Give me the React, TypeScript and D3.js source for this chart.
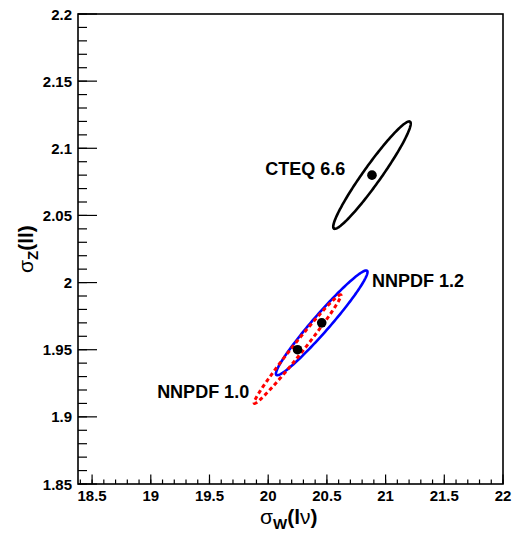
import React from "react";
import * as d3 from "d3";

const ellipseNames = ["CTEQ 6.6", "NNPDF 1.2", "NNPDF 1.0"];
const centerW = [20.884, 20.456, 20.25];
const centerZ = [2.08, 1.97, 1.9505];
const sigmaW = [0.33, 0.39, 0.37];
const sigmaZ = [0.04, 0.039, 0.0405];
const correlation = [0.96, 0.97, 0.988];
const ellipseColors = ["#000000", "#0000ff", "#ff0000"];
const ellipseDash = ["", "", "4,3"];
const ellipseWidth = [2.6, 2.6, 3];

const pointW = [20.884, 20.456, 20.25];
const pointZ = [2.08, 1.97, 1.95];

const labelText = ["CTEQ 6.6", "NNPDF 1.2", "NNPDF 1.0"];
const labelW = [19.975, 20.884, 19.054];
const labelZ = [2.08, 1.997, 1.914];

const xTicks = [18.5, 19, 19.5, 20, 20.5, 21, 21.5, 22];
const yTicks = [1.85, 1.9, 1.95, 2, 2.05, 2.1, 2.15, 2.2];

const W = 512, H = 535;
const left = 78, right = 503, top = 14, bottom = 484;
const FONT = "'Liberation Sans', Arial, Helvetica, sans-serif";

export default function App() {
  const x = d3.scaleLinear().domain([18.38, 22]).range([left, right]);
  const y = d3.scaleLinear().domain([1.85, 2.2]).range([bottom, top]);

  const xMinor = d3.range(18.4, 22.0001, 0.1).map((v) => +v.toFixed(2));
  const yMinor = d3.range(1.85, 2.2001, 0.01).map((v) => +v.toFixed(3));

  const line = d3
    .line<[number, number]>()
    .x((d) => x(d[0]))
    .y((d) => y(d[1]))
    .curve(d3.curveLinearClosed);

  const ellipses = ellipseNames.map((name, i) => {
    const rho = correlation[i];
    const s = Math.sqrt(1 - rho * rho);
    const pts: [number, number][] = d3.range(0, 360, 2).map((deg) => {
      const t = (deg * Math.PI) / 180;
      return [
        centerW[i] + sigmaW[i] * Math.cos(t),
        centerZ[i] + sigmaZ[i] * (rho * Math.cos(t) + s * Math.sin(t)),
      ];
    });
    return { name, d: line(pts) || "", color: ellipseColors[i], dash: ellipseDash[i], w: ellipseWidth[i] };
  });

  return (
    <svg width={W} height={H} style={{ position: "absolute", left: 0, top: 0 }} fontFamily={FONT}>
      <rect x={0} y={0} width={W} height={H} fill="white" />
      {ellipses.map((e) => (
        <path key={e.name} d={e.d} fill="none" stroke={e.color} strokeWidth={e.w} strokeDasharray={e.dash || undefined} />
      ))}
      {pointW.map((v, i) => (
        <circle key={i} cx={x(v)} cy={y(pointZ[i])} r={4.8} fill="black" />
      ))}
      {labelText.map((t, i) => (
        <text key={t} x={x(labelW[i])} y={y(labelZ[i])} fontSize={18} fontWeight="bold" fill="black">
          {t}
        </text>
      ))}
      <rect x={left} y={top} width={right - left} height={bottom - top} fill="none" stroke="black" strokeWidth={1.6} />
      {yMinor.map((v) => (
        <line key={"ym" + v} x1={left} x2={left + 9} y1={y(v)} y2={y(v)} stroke="black" strokeWidth={1.2} />
      ))}
      {yTicks.map((v) => (
        <g key={"y" + v}>
          <line x1={left} x2={left + 19} y1={y(v)} y2={y(v)} stroke="black" strokeWidth={1.2} />
          <text x={72} y={y(v) + 5.5} textAnchor="end" fontSize={15} fontWeight="bold">
            {String(v)}
          </text>
        </g>
      ))}
      {xMinor.map((v) => (
        <line key={"xm" + v} x1={x(v)} x2={x(v)} y1={bottom} y2={bottom - 4.5} stroke="black" strokeWidth={1.2} />
      ))}
      {xTicks.map((v) => (
        <g key={"x" + v}>
          <line x1={x(v)} x2={x(v)} y1={bottom} y2={bottom - 9.5} stroke="black" strokeWidth={1.2} />
          <text x={x(v)} y={500.5} textAnchor="middle" fontSize={15} fontWeight="bold">
            {String(v)}
          </text>
        </g>
      ))}
      <text x={260} y={524} fontSize={21} fill="black">
        <tspan>σ</tspan>
        <tspan fontSize={15} fontWeight="bold" dy={5}>W</tspan>
        <tspan fontWeight="bold" dy={-5}>(l</tspan>
        <tspan>ν</tspan>
        <tspan fontWeight="bold">)</tspan>
      </text>
      <text transform="translate(33,273) rotate(-90)" fontSize={21} fill="black">
        <tspan>σ</tspan>
        <tspan fontSize={15} fontWeight="bold" dy={5}>Z</tspan>
        <tspan fontWeight="bold" dy={-5}>(ll)</tspan>
      </text>
    </svg>
  );
}
